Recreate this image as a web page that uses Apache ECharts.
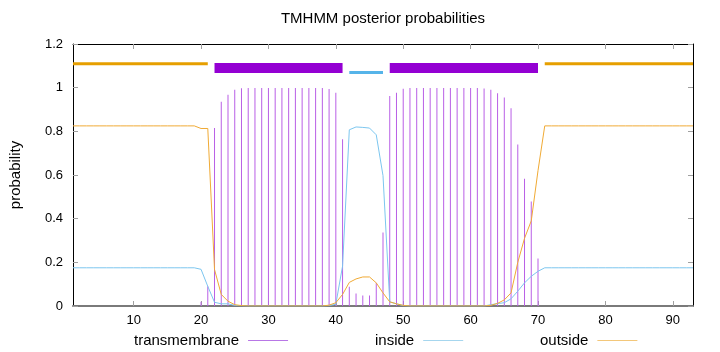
<!DOCTYPE html>
<html>
<head>
<meta charset="utf-8">
<script src="https://cdn.jsdelivr.net/npm/echarts@6/dist/echarts.min.js"></script>
<style>html,body{margin:0;padding:0;background:#fff}#c{width:720px;height:352px}</style>
</head>
<body>
<div id="c"></div>
<script>
// Residue positions 1..93
const positions = Array.from({length: 93}, (_, i) => i + 1);

// Posterior probability per residue
const transmembrane = [
  0,0,0,0,0,0,0,0,0,0, 0,0,0,0,0,0,0,0,0,0.02,
  0.09,0.815,0.935,0.968,0.99,0.997,0.999,0.999,0.999,0.999,
  0.999,0.999,0.999,0.999,0.999,0.999,0.999,0.999,0.994,0.977,
  0.764,0.088,0.057,0.048,0.048,0.106,0.337,0.962,0.977,0.995,
  0.999,0.999,0.999,0.999,0.999,0.999,0.999,0.999,0.999,0.999,
  0.999,0.996,0.99,0.975,0.955,0.906,0.74,0.583,0.479,0.217,
  0,0,0,0,0,0,0,0,0,0, 0,0,0,0,0,0,0,0,0,0, 0,0,0
];
const inside = [
  0.175,0.175,0.175,0.175,0.175,0.175,0.175,0.175,0.175,0.175,
  0.175,0.175,0.175,0.175,0.175,0.175,0.175,0.175,0.175,0.168,
  0.09,0.017,0.01,0.01,0.003,0.001,0,0,0,0,
  0,0,0,0,0,0,0,0,0.002,0.008,
  0.183,0.807,0.82,0.818,0.815,0.784,0.597,0.019,0.01,0.002,
  0,0,0,0,0,0,0,0,0,0,
  0,0,0.006,0.011,0.015,0.033,0.068,0.106,0.136,0.159,
  0.175,0.175,0.175,0.175,0.175,0.175,0.175,0.175,0.175,0.175,
  0.175,0.175,0.175,0.175,0.175,0.175,0.175,0.175,0.175,0.175,
  0.175,0.175,0.175
];
const outside = [
  0.825,0.825,0.825,0.825,0.825,0.825,0.825,0.825,0.825,0.825,
  0.825,0.825,0.825,0.825,0.825,0.825,0.825,0.825,0.825,0.813,
  0.813,0.167,0.053,0.022,0.006,0.002,0,0,0,0,
  0,0,0,0,0,0,0,0,0.004,0.015,
  0.053,0.108,0.124,0.133,0.133,0.106,0.06,0.019,0.01,0.003,
  0,0,0,0,0,0,0,0,0,0,
  0,0,0.003,0.012,0.028,0.06,0.2,0.31,0.39,0.62,
  0.825,0.825,0.825,0.825,0.825,0.825,0.825,0.825,0.825,0.825,
  0.825,0.825,0.825,0.825,0.825,0.825,0.825,0.825,0.825,0.825,
  0.825,0.825,0.825
];

// Predicted topology segments
const segLabels = ['outside', 'TMhelix', 'inside', 'TMhelix', 'outside'];
const segStart  = [1, 22, 42, 48, 71];
const segEnd    = [21, 41, 47, 70, 93];
const segLevel  = {outside: 1.11, TMhelix: 1.09, inside: 1.07};

// Tick labels
const xTicks = [10, 20, 30, 40, 50, 60, 70, 80, 90];
const yTicks = [0, 0.2, 0.4, 0.6, 0.8, 1, 1.2];

const segStyle = {
  outside: {color: '#e69f00', width: 3},
  TMhelix: {color: '#9400d3', width: 10},
  inside:  {color: '#56b4e9', width: 3}
};

const FONT = 'Liberation Sans';
const chart = echarts.init(document.getElementById('c'), null, {renderer: 'canvas'});

const topoSeries = segLabels.map((lab, i) => ({
  type: 'line',
  name: 'topo_' + i,
  data: [[segStart[i], segLevel[lab]], [segEnd[i], segLevel[lab]]],
  showSymbol: false,
  symbol: 'none',
  silent: true,
  animation: false,
  lineStyle: {color: segStyle[lab].color, width: segStyle[lab].width, cap: 'butt'},
  z: 5
}));

const tickStyle = {show: true, inside: true, length: 5, lineStyle: {color: '#a0a0a0'}};
const legendText = {fontFamily: FONT, fontSize: 15, color: '#000', padding: [0, 4, 0, 0]};

chart.setOption({
  animation: false,
  title: {
    text: 'TMHMM posterior probabilities',
    left: 383, top: 11, textAlign: 'center', padding: 0,
    textStyle: {fontFamily: FONT, fontSize: 15, fontWeight: 'normal', color: '#000'}
  },
  grid: {left: 73, right: 27, top: 44, bottom: 46, containLabel: false},
  legend: [
    {left: 134, top: 333, padding: 0, align: 'right', icon: 'rect', itemWidth: 40, itemHeight: 1, itemGap: 0,
     textStyle: legendText,
     data: [{name: 'transmembrane', itemStyle: {color: '#b877e6'}}]},
    {left: 375, top: 333, padding: 0, align: 'right', icon: 'rect', itemWidth: 40, itemHeight: 1, itemGap: 0,
     textStyle: legendText,
     data: [{name: 'inside', itemStyle: {color: '#a6d6ee'}}]},
    {left: 540, top: 333, padding: 0, align: 'right', icon: 'rect', itemWidth: 40, itemHeight: 1, itemGap: 0,
     textStyle: legendText,
     data: [{name: 'outside', itemStyle: {color: '#f3c77a'}}]}
  ],
  xAxis: [
    {type: 'value', min: 1, max: 93, position: 'bottom',
     axisLine: {show: true, onZero: false, lineStyle: {color: '#7a7a7a', width: 2}},
     axisTick: Object.assign({customValues: xTicks}, tickStyle),
     axisLabel: {customValues: xTicks, margin: 8, fontFamily: FONT, fontSize: 13, color: '#000'},
     splitLine: {show: false}},
    {type: 'value', min: 1, max: 93, position: 'top',
     axisLine: {show: true, onZero: false, lineStyle: {color: '#000', width: 1}},
     axisTick: Object.assign({customValues: xTicks}, tickStyle),
     axisLabel: {show: false},
     splitLine: {show: false}}
  ],
  yAxis: [
    {type: 'value', min: 0, max: 1.2, interval: 0.2, position: 'left',
     name: 'probability', nameLocation: 'middle', nameRotate: 90, nameGap: 50,
     nameTextStyle: {fontFamily: FONT, fontSize: 15, color: '#000'},
     axisLine: {show: true, onZero: false, lineStyle: {color: '#000', width: 1}},
     axisTick: Object.assign({customValues: yTicks}, tickStyle),
     axisLabel: {customValues: yTicks, margin: 10, fontFamily: FONT, fontSize: 13, color: '#000',
                 formatter: v => String(+v.toFixed(1))},
     splitLine: {show: false}},
    {type: 'value', min: 0, max: 1.2, interval: 0.2, position: 'right',
     axisLine: {show: true, onZero: false, lineStyle: {color: '#000', width: 1}},
     axisTick: Object.assign({customValues: yTicks}, tickStyle),
     axisLabel: {show: false},
     splitLine: {show: false}}
  ],
  series: [
    {type: 'bar', name: 'transmembrane', barWidth: 1,
     data: positions.map((p, i) => [p, transmembrane[i]]),
     itemStyle: {color: '#b95fe6'}, z: 2, silent: true},
    {type: 'line', name: 'inside', showSymbol: false, symbol: 'none',
     data: positions.map((p, i) => [p, inside[i]]),
     lineStyle: {color: '#7cc6ef', width: 1}, z: 3, silent: true},
    {type: 'line', name: 'outside', showSymbol: false, symbol: 'none',
     data: positions.map((p, i) => [p, outside[i]]),
     lineStyle: {color: '#f0aa35', width: 1}, z: 4, silent: true}
  ].concat(topoSeries)
});
</script>
</body>
</html>
